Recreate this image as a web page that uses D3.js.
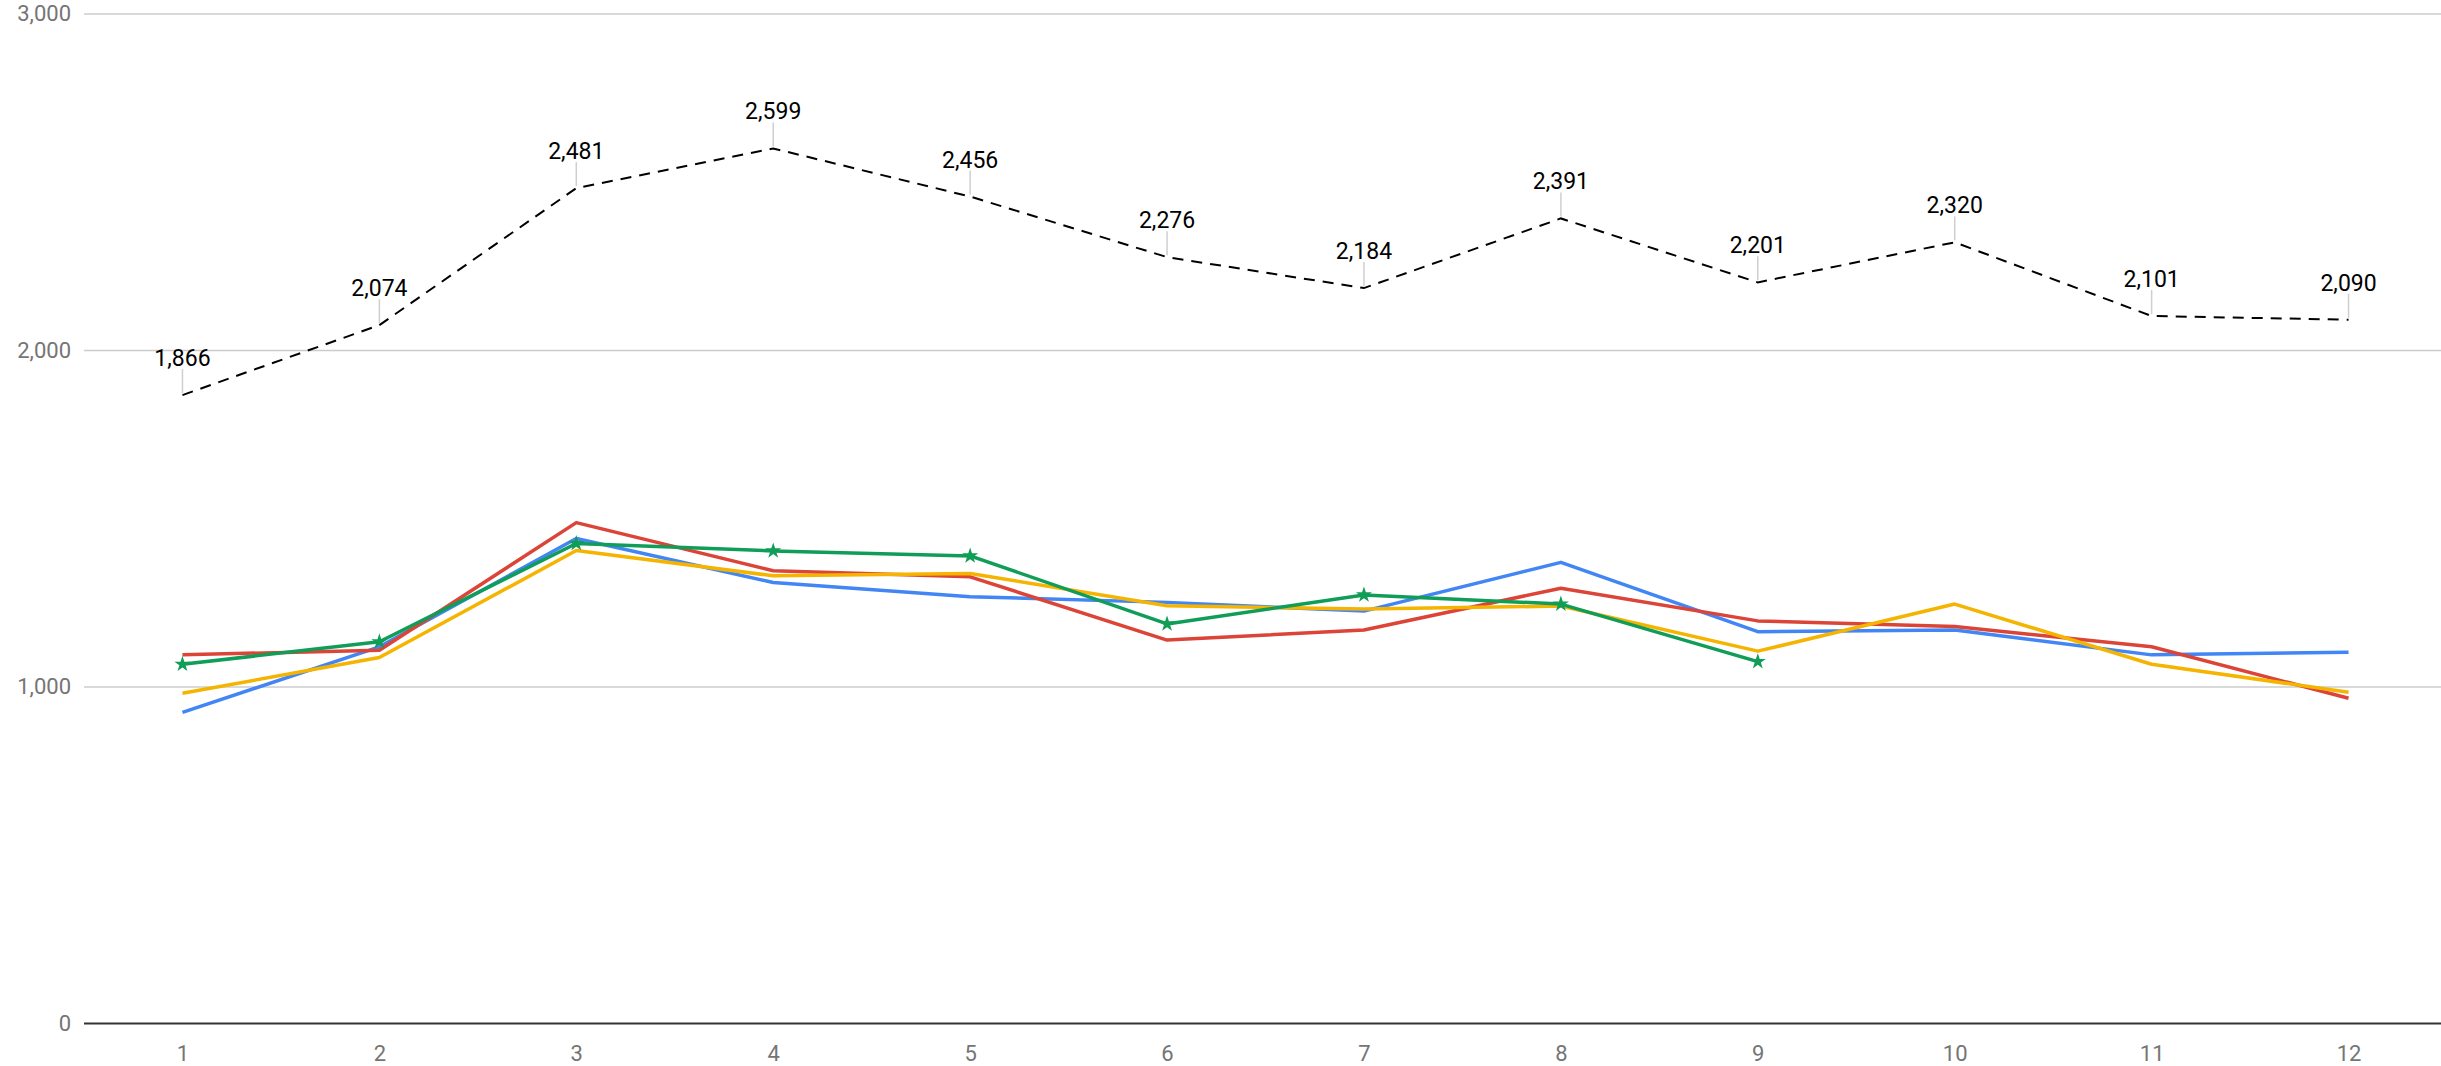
<!DOCTYPE html>
<html>
<head>
<meta charset="utf-8">
<script src="https://cdn.jsdelivr.net/npm/d3@7.9.0/dist/d3.min.js"></script>
<style>
  html, body { margin: 0; padding: 0; background: #fff; }
  svg { display: block; font-family: Roboto, Arial, sans-serif; }
</style>
</head>
<body>
<svg id="chart" width="2441" height="1066"></svg>
<script>
// months / categories
const categories = [1, 2, 3, 4, 5, 6, 7, 8, 9, 10, 11, 12];

// the four coloured series
const blueVals   = [923, 1118, 1440, 1309, 1267, 1250, 1224, 1369, 1163, 1168, 1094, 1102];
const redVals    = [1094, 1108, 1487, 1344, 1326, 1138, 1168, 1292, 1195, 1178, 1118, 965];
const yellowVals = [980, 1086, 1404, 1329, 1336, 1240, 1230, 1239, 1105, 1245, 1066, 983];
const greenVals  = [1066, 1133, 1425, 1403, 1388, 1186, 1272, 1245, 1074];   // stops at 9

// dashed black series with labels
const totalVals = [1866, 2074, 2481, 2599, 2456, 2276, 2184, 2391, 2201, 2320, 2101, 2090];

const yTicks = [0, 1000, 2000, 3000];

const svg = d3.select('#chart');
const W = 2441;
const plotLeft = 84, plotRight = 2447, plotTop = 13.5, plotBottom = 1023;

const x = d3.scalePoint().domain(categories).range([plotLeft, plotRight]).padding(0.5);
const y = d3.scaleLinear().domain([0, 3000]).range([plotBottom, plotTop]);

const fmt = d3.format(',');

// gridlines + y labels
const yAxis = d3.axisLeft(y)
  .tickValues(yTicks)
  .tickFormat(fmt)
  .tickSize(-(W - plotLeft))
  .tickPadding(13);

const gy = svg.append('g')
  .attr('transform', `translate(${plotLeft},0)`)
  .call(yAxis);
gy.select('.domain').remove();
gy.selectAll('.tick line')
  .attr('stroke', d => d === 0 ? '#333' : '#cccccc')
  .attr('stroke-width', d => d === 0 ? 2 : 1.5);
gy.selectAll('.tick text')
  .attr('fill', '#757575')
  .style('font-size', '22px')
  .style('font-family', 'Roboto, Arial, sans-serif');

// x labels
const xAxis = d3.axisBottom(x).tickSize(0).tickPadding(22);
const gx = svg.append('g')
  .attr('transform', `translate(0,${plotBottom})`)
  .call(xAxis);
gx.select('.domain').remove();
gx.selectAll('.tick text')
  .attr('fill', '#757575')
  .style('font-size', '22px')
  .style('font-family', 'Roboto, Arial, sans-serif');

const line = d3.line()
  .x((d, i) => x(categories[i]))
  .y(d => y(d));

// dashed series
svg.append('path')
  .datum(totalVals)
  .attr('d', line)
  .attr('fill', 'none')
  .attr('stroke', '#000')
  .attr('stroke-width', 2)
  .attr('stroke-dasharray', '11,8');

// annotation stems + labels
const ann = svg.append('g').selectAll('g')
  .data(totalVals)
  .enter().append('g')
  .attr('transform', (d, i) => `translate(${x(categories[i])},${y(d)})`);
ann.append('line')
  .attr('x1', 0).attr('x2', 0)
  .attr('y1', -2).attr('y2', -26)
  .attr('stroke', '#cfcfcf')
  .attr('stroke-width', 1.5);
ann.append('text')
  .attr('y', -29)
  .attr('text-anchor', 'middle')
  .attr('fill', '#000')
  .style('font-size', '23px')
  .text(d => fmt(d));

// coloured series
const series = [
  { name: 'blue',   color: '#4285F4', vals: blueVals },
  { name: 'red',    color: '#DB4437', vals: redVals },
  { name: 'yellow', color: '#F4B400', vals: yellowVals },
  { name: 'green',  color: '#0F9D58', vals: greenVals }
];

series.forEach(s => {
  svg.append('path')
    .datum(s.vals)
    .attr('d', line)
    .attr('fill', 'none')
    .attr('stroke', s.color)
    .attr('stroke-width', 3.5)
    .attr('stroke-linejoin', 'round');
});

// star markers on green
const star = d3.symbol().type(d3.symbolStar).size(80);
svg.append('g').selectAll('path')
  .data(greenVals)
  .enter().append('path')
  .attr('d', star)
  .attr('transform', (d, i) => `translate(${x(categories[i])},${y(d)})`)
  .attr('fill', '#0F9D58');
</script>
</body>
</html>
